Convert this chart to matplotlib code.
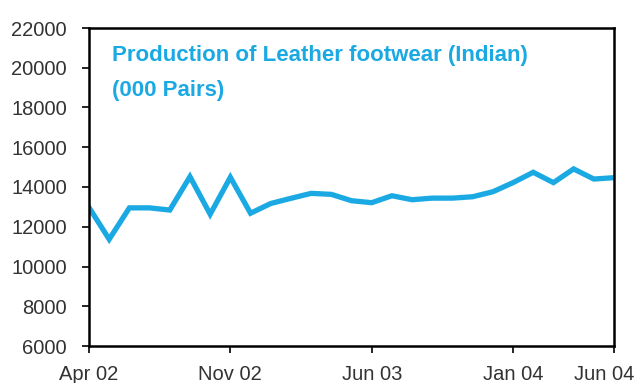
import matplotlib
matplotlib.use("Agg")
import matplotlib.pyplot as plt
from matplotlib.transforms import ScaledTranslation

# monthly series, Apr 02 .. Jun 04 (000 pairs)
months = ["Apr 02", "May 02", "Jun 02", "Jul 02", "Aug 02", "Sep 02", "Oct 02",
          "Nov 02", "Dec 02", "Jan 03", "Feb 03", "Mar 03", "Apr 03", "May 03",
          "Jun 03", "Jul 03", "Aug 03", "Sep 03", "Oct 03", "Nov 03", "Dec 03",
          "Jan 04", "Feb 04", "Mar 04", "Apr 04", "May 04", "Jun 04"]
production = [12970, 11370, 12950, 12950, 12840, 14520, 12630,
              14490, 12680, 13170, 13430, 13680, 13630, 13310,
              13210, 13560, 13360, 13440, 13440, 13510, 13760,
              14220, 14740, 14220, 14910, 14400, 14470]
tick_labels = ["Apr 02", "Nov 02", "Jun 03", "Jan 04", "Jun 04"]
y_ticks = list(range(6000, 22001, 2000))
title_lines = ["Production of Leather footwear (Indian)", "(000 Pairs)"]

blue = "#1AA9E2"
plt.rcParams["font.family"] = ["Liberation Sans", "DejaVu Sans"]

fig = plt.figure(figsize=(6.34, 3.83), dpi=100)
ax = fig.add_axes([89 / 634, 37 / 383, 525 / 634, 318 / 383])

x = list(range(len(months)))
ax.plot(x, production, color=blue, lw=3.8, solid_joinstyle="miter")

ax.set_xlim(0, len(months) - 1)
ax.set_ylim(6000, 22000)
ax.set_yticks(y_ticks)
ax.set_yticklabels([str(v) for v in y_ticks])
tick_pos = [months.index(m) for m in tick_labels]
ax.set_xticks(tick_pos)
labels = ax.set_xticklabels(tick_labels)

for s in ax.spines.values():
    s.set_linewidth(1.8)
    s.set_color("black")
ax.tick_params(axis="y", direction="out", length=5, width=1.2, pad=11,
               labelsize=14.5, colors="#333333")
ax.tick_params(axis="x", direction="out", length=5, width=1.2, pad=9,
               labelsize=14.5, colors="#333333")
ax.tick_params(colors="black", which="both", labelcolor="#333333")

# last label is pushed left so it stays inside the figure
last = labels[-1]
last.set_horizontalalignment("right")
last.set_transform(last.get_transform() + ScaledTranslation(20 / 100, 0, fig.dpi_scale_trans))

for yy, line in zip([0.912, 0.805], title_lines):
    ax.text(0.043, yy, line, transform=ax.transAxes, color=blue,
            fontsize=16, fontweight="bold", va="center", ha="left")

fig.savefig("out.png", dpi=100)
